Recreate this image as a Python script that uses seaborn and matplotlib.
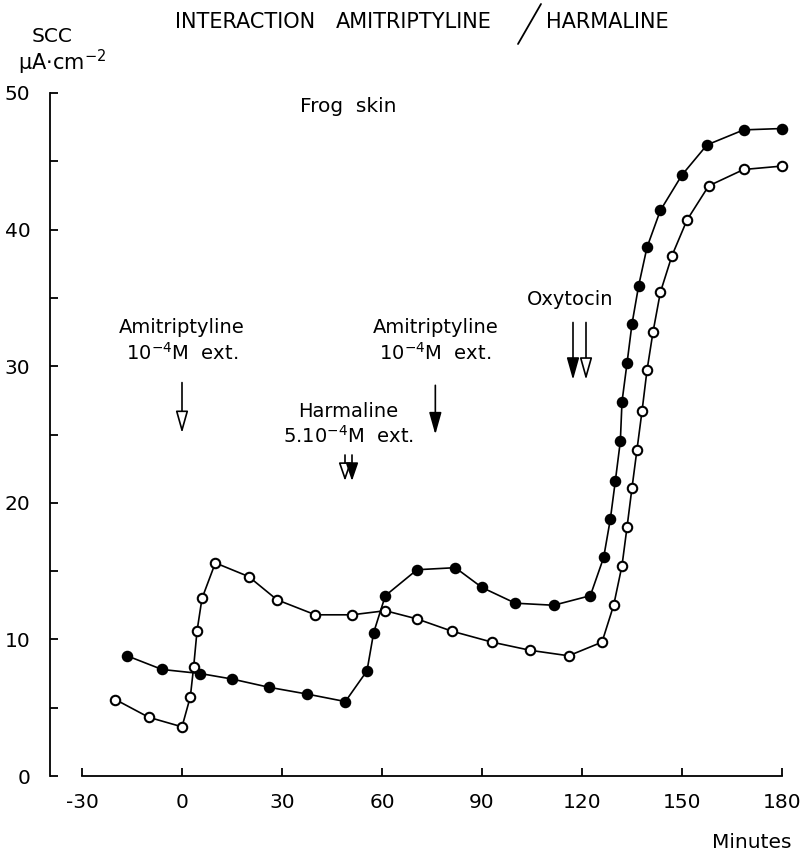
import matplotlib
matplotlib.use("Agg")
import matplotlib.pyplot as plt
from matplotlib.lines import Line2D
import numpy as np
import pandas as pd
import seaborn as sns

# Short-circuit current (SCC, uA/cm2) of frog skin versus time (minutes)
open_x = [-20, -10, 0, 2.5, 3.5, 4.5, 6, 10, 20, 28.5, 40, 51, 61, 70.5, 81, 93,
          104.5, 116, 126, 129.5, 132, 133.5, 135, 136.5, 138, 139.5, 141.3,
          143.5, 147, 151.5, 158, 168.5, 180]
open_y = [5.6, 4.3, 3.6, 5.8, 8.0, 10.6, 13.0, 15.6, 14.6, 12.9, 11.8, 11.8,
          12.1, 11.5, 10.6, 9.8, 9.2, 8.8, 9.8, 12.5, 15.4, 18.2, 21.1, 23.9,
          26.7, 29.7, 32.5, 35.4, 38.1, 40.7, 43.2, 44.4, 44.65]

filled_x = [-16.5, -6, 5.5, 15, 26, 37.5, 49, 55.5, 57.5, 61, 70.5, 82, 90, 100,
            111.5, 122.5, 126.5, 128.5, 130, 131.5, 132, 133.5, 135, 137, 139.5,
            143.5, 150, 157.5, 168.5, 180]
filled_y = [8.8, 7.8, 7.5, 7.1, 6.5, 6.0, 5.45, 7.7, 10.5, 13.2, 15.1, 15.25,
            13.8, 12.65, 12.5, 13.2, 16.0, 18.8, 21.6, 24.5, 27.4, 30.2, 33.1,
            35.9, 38.7, 41.4, 44.0, 46.2, 47.3, 47.4]

x_ticks = [-30, 0, 30, 60, 90, 120, 150, 180]
y_ticks = [0, 10, 20, 30, 40, 50]
y_minor = [5, 15, 25, 35, 45]

sns.set_theme(style="white")
plt.rcParams["font.family"] = ["DejaVu Sans"]
plt.rcParams["mathtext.default"] = "regular"
plt.rcParams["axes.unicode_minus"] = False
plt.rcParams["text.color"] = "black"

W, H = 803, 857
fig = plt.figure(figsize=(W / 100, H / 100), dpi=100)
ax = fig.add_axes([50 / W, (H - 776) / H, (790 - 50) / W, (776 - 93) / H])

df_open = pd.DataFrame({"t": open_x, "scc": open_y})
df_filled = pd.DataFrame({"t": filled_x, "scc": filled_y})

line_kw = dict(color="black", lw=1.2, marker="o", markersize=6.8,
               markeredgecolor="black", markeredgewidth=1.5,
               estimator=None, sort=False, clip_on=False)
sns.lineplot(data=df_filled, x="t", y="scc", ax=ax, markerfacecolor="black", **line_kw)
sns.lineplot(data=df_open, x="t", y="scc", ax=ax, markerfacecolor="white", **line_kw)

ax.set_xlim(-39.6, 182.4)
ax.set_ylim(0, 50)
ax.set_xlabel("")
ax.set_ylabel("")

for s in ("top", "right"):
    ax.spines[s].set_visible(False)
for s in ("left", "bottom"):
    ax.spines[s].set_color("black")
    ax.spines[s].set_linewidth(1.3)
ax.spines["left"].set_bounds(0, 50)
ax.spines["bottom"].set_bounds(-30, 180)

ax.set_xticks(x_ticks)
ax.set_xticklabels([str(v) for v in x_ticks])
ax.set_yticks(y_ticks)
ax.set_yticklabels([str(v) for v in y_ticks])
ax.set_yticks(y_minor, minor=True)
ax.tick_params(axis="both", which="both", direction="in", length=6, width=1.3,
               color="black", labelcolor="black", labelsize=14.5)
ax.tick_params(axis="x", pad=12, bottom=True)
ax.tick_params(axis="y", pad=14, left=True)
ax.tick_params(axis="y", which="minor", left=True)


def fx(px):
    return px / W


def fy(py):
    return 1 - py / H


# Titles and axis captions
fig.text(fx(175), fy(22), "INTERACTION", ha="left", va="center", fontsize=15)
fig.text(fx(336), fy(22), "AMITRIPTYLINE", ha="left", va="center", fontsize=15)
fig.text(fx(607), fy(22), "HARMALINE", ha="center", va="center", fontsize=15)
fig.add_artist(Line2D([fx(518), fx(541)], [fy(44), fy(4)], color="black", lw=1.3))
fig.text(fx(52), fy(36), "SCC", ha="center", va="center", fontsize=14.5)
fig.text(fx(62), fy(62), r"$\mu$A$\cdot$cm$^{-2}$", ha="center", va="center", fontsize=15)
fig.text(fx(752), fy(843), "Minutes", ha="center", va="center", fontsize=14.5)

ax.text(35.5, 49.0, "Frog  skin", ha="left", va="center", fontsize=14.5)

# Drug additions
txt = dict(ha="center", va="center", fontsize=14)
ax.text(0, 32.8, "Amitriptyline", **txt)
ax.text(0, 31.0, r"10$^{-4}$M  ext.", **txt)
ax.text(76, 32.8, "Amitriptyline", **txt)
ax.text(76, 31.0, r"10$^{-4}$M  ext.", **txt)
ax.text(50, 26.65, "Harmaline", **txt)
ax.text(50, 24.9, r"5.10$^{-4}$M  ext.", **txt)
ax.text(116.5, 34.85, "Oxytocin", **txt)


def arrow(x, y0, y1, filled, head=1.35):
    ax.annotate("", xy=(x, y1), xytext=(x, y0),
                arrowprops=dict(arrowstyle=f"-|>,head_length={head},head_width=0.38",
                                fc="black" if filled else "white", ec="black",
                                lw=1.2, shrinkA=0, shrinkB=0, mutation_scale=10))


arrow(0, 28.8, 25.1, False)
arrow(76, 28.6, 25.0, True)
arrow(48.9, 23.5, 21.6, False, 1.1)
arrow(51.0, 23.5, 21.6, True, 1.1)
arrow(117.3, 33.2, 29.0, True)
arrow(121.2, 33.2, 29.0, False)

fig.savefig("out.png", dpi=100, facecolor="white")
